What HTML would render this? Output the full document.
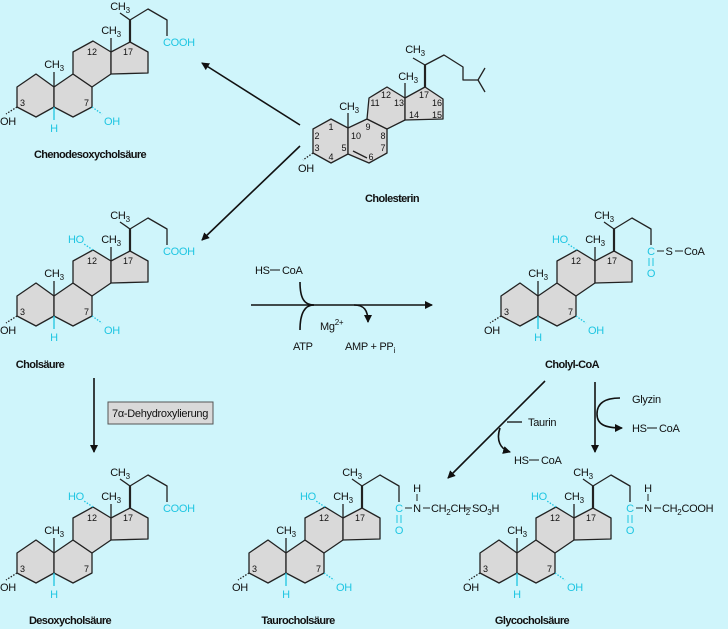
<!DOCTYPE html>
<html><head><meta charset="utf-8"><style>
html,body{margin:0;padding:0;background:#cff5fb;}
svg{display:block}
text{font-family:"Liberation Sans Narrow","Liberation Sans",sans-serif;font-size:11px;fill:#111;letter-spacing:-0.3px}
.n{font-size:9px;letter-spacing:0}
.c{fill:#1fc6e2}
.b{font-weight:bold;font-size:11px;letter-spacing:-0.6px}
.m{text-anchor:middle}
</style></head><body>
<svg width="728" height="629" viewBox="0 0 728 629" xmlns="http://www.w3.org/2000/svg">
<defs>
<marker id="ah" markerWidth="8" markerHeight="8" refX="7" refY="4" orient="auto" markerUnits="userSpaceOnUse"><path d="M0,0 L8,4 L0,8 Z" fill="#111"/></marker>
<g id="sk" stroke="#222" stroke-width="1.3" fill="#d9d9d9" stroke-linejoin="round">
<polygon points="17,87 36,74 54,87 54,107 36,117 17,107"/>
<polygon points="54,87 73,74 92,87 92,107 73,117 54,107"/>
<polygon points="73,74 73,52 93,41 111,52 111,74 92,87"/>
<polygon points="111,52 130,42 148,52 148,73 111,74"/>
<g fill="none">
<line x1="54" y1="87" x2="54" y2="72"/>
<line x1="111" y1="52" x2="111" y2="38"/>
<line x1="130" y1="42" x2="130" y2="20" stroke-width="2.2"/>
<polyline points="120,13 130,20 148,9 167,20 167,36"/>
<line x1="17" y1="107" x2="6" y2="114" stroke-dasharray="1.5,1.5"/>
<line x1="54" y1="107" x2="54" y2="120" stroke="#1fc6e2"/>
</g>
</g>
<line id="oh7" x1="92" y1="107" x2="102" y2="114" stroke="#1fc6e2" stroke-width="1.3" stroke-dasharray="1.5,1.5"/>
<line id="oh12" x1="93" y1="41" x2="84" y2="35" stroke="#1fc6e2" stroke-width="1.3" stroke-dasharray="1.5,1.5"/>
</defs>

<!-- Chenodesoxycholsäure -->
<g transform="translate(0,0)">
<use href="#sk"/><use href="#oh7"/>
<text x="54" y="68" class="m">CH<tspan dy="3" font-size="8">3</tspan></text>
<text x="111" y="34" class="m">CH<tspan dy="3" font-size="8">3</tspan></text>
<text x="120" y="10" class="m">CH<tspan dy="3" font-size="8">3</tspan></text>
<text x="92" y="55" class="n m">12</text><text x="128" y="55" class="n m">17</text>
<text x="20" y="106" class="n">3</text><text x="84" y="106" class="n">7</text>
<text x="0" y="125">OH</text><text x="54" y="132" class="c m">H</text><text x="104" y="125" class="c">OH</text>
<text x="163" y="46" class="c">COOH</text>
</g>
<text x="90" y="158" class="b m">Chenodesoxycholsäure</text>

<!-- Cholsäure -->
<g transform="translate(0,209)">
<use href="#sk"/><use href="#oh7"/><use href="#oh12"/>
<text x="54" y="68" class="m">CH<tspan dy="3" font-size="8">3</tspan></text>
<text x="111" y="34" class="m">CH<tspan dy="3" font-size="8">3</tspan></text>
<text x="120" y="10" class="m">CH<tspan dy="3" font-size="8">3</tspan></text>
<text x="92" y="55" class="n m">12</text><text x="128" y="55" class="n m">17</text>
<text x="20" y="106" class="n">3</text><text x="84" y="106" class="n">7</text>
<text x="0" y="125">OH</text><text x="54" y="132" class="c m">H</text><text x="104" y="125" class="c">OH</text>
<text x="68" y="34" class="c">HO</text>
<text x="163" y="46" class="c">COOH</text>
</g>
<text x="40" y="368" class="b m">Cholsäure</text>

<!-- Cholyl-CoA -->
<g transform="translate(484,209)">
<use href="#sk"/><use href="#oh7"/><use href="#oh12"/>
<text x="54" y="68" class="m">CH<tspan dy="3" font-size="8">3</tspan></text>
<text x="111" y="34" class="m">CH<tspan dy="3" font-size="8">3</tspan></text>
<text x="120" y="10" class="m">CH<tspan dy="3" font-size="8">3</tspan></text>
<text x="92" y="55" class="n m">12</text><text x="128" y="55" class="n m">17</text>
<text x="20" y="106" class="n">3</text><text x="84" y="106" class="n">7</text>
<text x="0" y="125">OH</text><text x="54" y="132" class="c m">H</text><text x="104" y="125" class="c">OH</text>
<text x="68" y="34" class="c">HO</text>
<text x="167" y="46" class="c m">C</text>
<line x1="165" y1="49" x2="165" y2="57" stroke="#1fc6e2"/><line x1="169" y1="49" x2="169" y2="57" stroke="#1fc6e2"/>
<text x="167" y="68" class="c m">O</text>
<line x1="173" y1="42" x2="180" y2="42" stroke="#222"/>
<text x="185" y="46" class="m">S</text>
<line x1="191" y1="42" x2="199" y2="42" stroke="#222"/>
<text x="200" y="46">CoA</text>
</g>
<text x="572" y="368" class="b m">Cholyl-CoA</text>

<!-- Desoxycholsäure -->
<g transform="translate(0,466)">
<use href="#sk"/><use href="#oh12"/>
<text x="54" y="68" class="m">CH<tspan dy="3" font-size="8">3</tspan></text>
<text x="111" y="34" class="m">CH<tspan dy="3" font-size="8">3</tspan></text>
<text x="120" y="10" class="m">CH<tspan dy="3" font-size="8">3</tspan></text>
<text x="92" y="55" class="n m">12</text><text x="128" y="55" class="n m">17</text>
<text x="20" y="106" class="n">3</text><text x="84" y="106" class="n">7</text>
<text x="0" y="125">OH</text><text x="54" y="132" class="c m">H</text>
<text x="68" y="34" class="c">HO</text>
<text x="163" y="46" class="c">COOH</text>
</g>
<text x="70" y="624" class="b m">Desoxycholsäure</text>

<!-- Taurocholsäure -->
<g transform="translate(232,466)">
<use href="#sk"/><use href="#oh7"/><use href="#oh12"/>
<text x="54" y="68" class="m">CH<tspan dy="3" font-size="8">3</tspan></text>
<text x="111" y="34" class="m">CH<tspan dy="3" font-size="8">3</tspan></text>
<text x="120" y="10" class="m">CH<tspan dy="3" font-size="8">3</tspan></text>
<text x="92" y="55" class="n m">12</text><text x="128" y="55" class="n m">17</text>
<text x="20" y="106" class="n">3</text><text x="84" y="106" class="n">7</text>
<text x="0" y="125">OH</text><text x="54" y="132" class="c m">H</text><text x="104" y="125" class="c">OH</text>
<text x="68" y="34" class="c">HO</text>
<text x="167" y="46" class="c m">C</text>
<line x1="165" y1="49" x2="165" y2="57" stroke="#1fc6e2"/><line x1="169" y1="49" x2="169" y2="57" stroke="#1fc6e2"/>
<text x="167" y="68" class="c m">O</text>
<line x1="173" y1="42" x2="180" y2="42" stroke="#222"/>
<text x="185" y="46" class="m">N</text>
<text x="185" y="26" class="m">H</text>
<line x1="185" y1="28" x2="185" y2="35" stroke="#222"/>
<line x1="191" y1="42" x2="198" y2="42" stroke="#222"/>
<text x="199" y="46">CH<tspan dy="3" font-size="8">2</tspan><tspan dy="-3">CH</tspan><tspan dy="3" font-size="8">2</tspan></text>
<line x1="232" y1="42" x2="239" y2="42" stroke="#222"/>
<text x="240" y="46">SO<tspan dy="3" font-size="8">3</tspan><tspan dy="-3">H</tspan></text>
</g>
<text x="298" y="624" class="b m">Taurocholsäure</text>

<!-- Glycocholsäure -->
<g transform="translate(463,466)">
<use href="#sk"/><use href="#oh7"/><use href="#oh12"/>
<text x="54" y="68" class="m">CH<tspan dy="3" font-size="8">3</tspan></text>
<text x="111" y="34" class="m">CH<tspan dy="3" font-size="8">3</tspan></text>
<text x="120" y="10" class="m">CH<tspan dy="3" font-size="8">3</tspan></text>
<text x="92" y="55" class="n m">12</text><text x="128" y="55" class="n m">17</text>
<text x="20" y="106" class="n">3</text><text x="84" y="106" class="n">7</text>
<text x="0" y="125">OH</text><text x="54" y="132" class="c m">H</text><text x="104" y="125" class="c">OH</text>
<text x="68" y="34" class="c">HO</text>
<text x="167" y="46" class="c m">C</text>
<line x1="165" y1="49" x2="165" y2="57" stroke="#1fc6e2"/><line x1="169" y1="49" x2="169" y2="57" stroke="#1fc6e2"/>
<text x="167" y="68" class="c m">O</text>
<line x1="173" y1="42" x2="180" y2="42" stroke="#222"/>
<text x="185" y="46" class="m">N</text>
<text x="185" y="26" class="m">H</text>
<line x1="185" y1="28" x2="185" y2="35" stroke="#222"/>
<line x1="191" y1="42" x2="198" y2="42" stroke="#222"/>
<text x="199" y="46">CH<tspan dy="3" font-size="8">2</tspan><tspan dy="-3">COOH</tspan></text>
</g>
<text x="532" y="624" class="b m">Glycocholsäure</text>

<!-- Cholesterin -->
<g stroke="#222" stroke-width="1.3" fill="#d9d9d9" stroke-linejoin="round">
<polygon points="331,119 348,128 348,154 331,163 313,153 313,129"/>
<polygon points="348,128 367,119 387,129 387,153 369,163 348,154"/>
<polygon points="367,119 369,98 387,87 405,98 405,120 387,129"/>
<polygon points="405,98 425,87 443,99 443,119 405,120"/>
<g fill="none">
<line x1="353" y1="151" x2="367" y2="158"/>
<line x1="348" y1="128" x2="348" y2="113"/>
<line x1="405" y1="98" x2="405" y2="83"/>
<line x1="425" y1="87" x2="425" y2="65" stroke-width="2.2"/>
<polyline points="413,58 425,65 444,55 463,67 463,80 478,80 485,68"/>
<line x1="478" y1="80" x2="485" y2="92"/>
<line x1="313" y1="153" x2="303" y2="160" stroke-dasharray="1.5,1.5"/>
</g>
</g>
<text x="349" y="110" class="m">CH<tspan dy="3" font-size="8">3</tspan></text>
<text x="408" y="80" class="m">CH<tspan dy="3" font-size="8">3</tspan></text>
<text x="415" y="53" class="m">CH<tspan dy="3" font-size="8">3</tspan></text>
<text x="298" y="172">OH</text>
<g>
<text x="331" y="130" class="n m">1</text><text x="317" y="139" class="n m">2</text><text x="317" y="151" class="n m">3</text>
<text x="331" y="160" class="n m">4</text><text x="344" y="151" class="n m">5</text><text x="356" y="139" class="n m">10</text>
<text x="368" y="130" class="n m">9</text><text x="383" y="139" class="n m">8</text><text x="383" y="151" class="n m">7</text>
<text x="371" y="160" class="n m">6</text><text x="375" y="106" class="n m">11</text><text x="386" y="98" class="n m">12</text>
<text x="399" y="106" class="n m">13</text><text x="424" y="98" class="n m">17</text><text x="437" y="106" class="n m">16</text>
<text x="414" y="118" class="n m">14</text><text x="437" y="118" class="n m">15</text>
</g>
<text x="392" y="202" class="b m">Cholesterin</text>

<!-- Arrows -->
<g stroke="#111" stroke-width="1.6" fill="none">
<line x1="300" y1="125" x2="202" y2="63" marker-end="url(#ah)"/>
<line x1="300" y1="146" x2="202" y2="240" marker-end="url(#ah)"/>
<line x1="251" y1="305" x2="432" y2="305" marker-end="url(#ah)"/>
<path d="M300,282 C300,298 304,305 314,305"/>
<path d="M300,330 C300,314 304,305 314,305"/>
<path d="M354,305 C364,305 368,310 368,322" marker-end="url(#ah)"/>
<line x1="94" y1="378" x2="94" y2="452" marker-end="url(#ah)"/>
<line x1="545" y1="381" x2="448" y2="478" marker-end="url(#ah)"/>
<line x1="507" y1="422" x2="522" y2="422" stroke-width="1.3"/>
<path d="M500,428 C496,440 500,449 510,452" marker-end="url(#ah)"/>
<line x1="595" y1="382" x2="595" y2="452" marker-end="url(#ah)"/>
<path d="M620,398 C604,398 597,404 597,414 C597,424 604,428 622,428" marker-end="url(#ah)"/>
</g>
<text x="255" y="274">HS</text><line x1="270" y1="270" x2="280" y2="270" stroke="#111"/><text x="282" y="274">CoA</text>
<text x="320" y="330">Mg<tspan dy="-5" font-size="8">2+</tspan></text>
<text x="293" y="350">ATP</text>
<text x="345" y="350">AMP + PP<tspan dy="3" font-size="8">i</tspan></text>
<rect x="108" y="402" width="105" height="22" fill="#d9d9d9" stroke="#555" stroke-width="1"/>
<text x="112" y="417">7α-Dehydroxylierung</text>
<text x="528" y="426">Taurin</text>
<text x="514" y="464">HS</text><line x1="529" y1="460" x2="539" y2="460" stroke="#111"/><text x="541" y="464">CoA</text>
<text x="632" y="403">Glyzin</text>
<text x="632" y="432">HS</text><line x1="647" y1="428" x2="657" y2="428" stroke="#111"/><text x="659" y="432">CoA</text>
</svg>
</body></html>
